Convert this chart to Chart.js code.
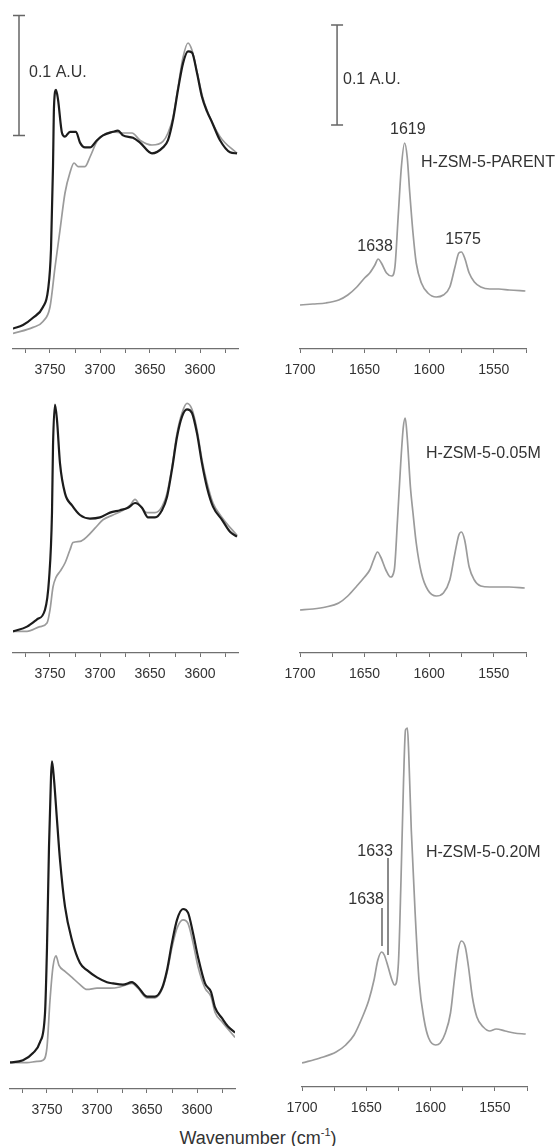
<!DOCTYPE html>
<html>
<head>
<meta charset="utf-8">
<script src="https://cdn.jsdelivr.net/npm/chart.js@4.4.0/dist/chart.umd.min.js"></script>
<style>
  html, body { margin: 0; padding: 0; background: #fff; }
  #page { position: relative; width: 558px; height: 1146px; overflow: hidden; }
  #page canvas { position: absolute; }
  #xtitle {
    position: absolute; left: 0; top: 1127px; width: 516px;
    text-align: center; font: 18px "Liberation Sans", Arial, sans-serif;
    color: #333; line-height: 22px;
  }
  #xtitle sup { font-size: 11px; vertical-align: 8px; line-height: 0; }
</style>
</head>
<body>
<div id="page">
  <canvas id="oh-parent" width="255" height="379" style="left:0;top:0"></canvas>
  <canvas id="py-parent" width="288" height="379" style="left:270px;top:0"></canvas>
  <canvas id="oh-005" width="255" height="298" style="left:0;top:385px"></canvas>
  <canvas id="py-005" width="288" height="298" style="left:270px;top:385px"></canvas>
  <canvas id="oh-020" width="255" height="419" style="left:0;top:700px"></canvas>
  <canvas id="py-020" width="288" height="417" style="left:270px;top:700px"></canvas>
  <div id="xtitle">Wavenumber (cm<sup>-1</sup>)</div>
</div>
<script>
// tick labels (major) and tick marks (major + minor)
const ohTicks = [3750, 3700, 3650, 3600];
const ohTickMarks = [3775, 3750, 3725, 3700, 3675, 3650, 3625, 3600, 3575];
const pyTicks = [1700, 1650, 1600, 1550];
const pyTickMarks = [1700, 1675, 1650, 1625, 1600, 1575, 1550, 1525];

// --- OH region, H-ZSM-5-PARENT (absorbance, A.U.) ---
const ohParentBlackWn = [3787, 3777, 3767, 3757, 3752, 3749, 3747, 3746, 3744, 3742, 3738, 3735, 3730, 3724, 3720, 3715, 3710, 3703, 3697, 3687, 3682, 3677, 3667, 3660, 3648, 3637, 3632, 3627, 3622, 3617, 3612, 3608, 3603, 3598, 3593, 3588, 3580, 3570, 3563];
const ohParentBlack = [0.017, 0.020, 0.026, 0.035, 0.049, 0.083, 0.152, 0.202, 0.216, 0.208, 0.180, 0.177, 0.181, 0.181, 0.172, 0.168, 0.168, 0.174, 0.178, 0.181, 0.182, 0.178, 0.176, 0.172, 0.163, 0.168, 0.174, 0.191, 0.216, 0.238, 0.248, 0.247, 0.230, 0.210, 0.198, 0.189, 0.174, 0.164, 0.163];
const ohParentGrayWn = [3787, 3767, 3757, 3750, 3745, 3740, 3735, 3730, 3726, 3722, 3715, 3710, 3703, 3697, 3687, 3677, 3668, 3660, 3648, 3637, 3632, 3627, 3622, 3617, 3612, 3608, 3603, 3598, 3593, 3580, 3563];
const ohParentGray = [0.013, 0.018, 0.023, 0.035, 0.068, 0.099, 0.130, 0.147, 0.155, 0.152, 0.152, 0.160, 0.173, 0.178, 0.181, 0.180, 0.180, 0.174, 0.170, 0.173, 0.180, 0.193, 0.218, 0.243, 0.255, 0.249, 0.231, 0.212, 0.199, 0.177, 0.163];

// --- OH region, H-ZSM-5-0.05M ---
const oh005BlackWn = [3787, 3773, 3763, 3755, 3751, 3748, 3747, 3745, 3743, 3740, 3735, 3728, 3720, 3710, 3700, 3690, 3680, 3672, 3665, 3658, 3652, 3645, 3638, 3633, 3628, 3623, 3618, 3613, 3608, 3603, 3598, 3593, 3587, 3578, 3570, 3563];
const oh005Black = [0.018, 0.022, 0.028, 0.036, 0.061, 0.117, 0.172, 0.207, 0.194, 0.158, 0.133, 0.123, 0.115, 0.112, 0.113, 0.117, 0.119, 0.121, 0.125, 0.121, 0.113, 0.113, 0.119, 0.130, 0.153, 0.180, 0.197, 0.203, 0.200, 0.183, 0.158, 0.138, 0.122, 0.111, 0.101, 0.097];
const oh005GrayWn = [3787, 3773, 3760, 3753, 3750, 3747, 3744, 3740, 3735, 3730, 3727, 3720, 3713, 3705, 3697, 3687, 3677, 3670, 3665, 3660, 3653, 3645, 3638, 3633, 3628, 3623, 3618, 3613, 3608, 3603, 3598, 3593, 3587, 3578, 3563];
const oh005Gray = [0.018, 0.018, 0.022, 0.025, 0.036, 0.055, 0.063, 0.068, 0.075, 0.086, 0.092, 0.093, 0.097, 0.104, 0.111, 0.115, 0.119, 0.123, 0.128, 0.123, 0.117, 0.117, 0.122, 0.133, 0.155, 0.183, 0.200, 0.208, 0.203, 0.186, 0.161, 0.142, 0.125, 0.113, 0.098];

// --- OH region, H-ZSM-5-0.20M ---
const oh020BlackWn = [3788, 3774, 3764, 3757, 3752, 3750, 3748, 3746, 3745, 3743, 3740, 3737, 3732, 3725, 3717, 3710, 3700, 3690, 3684, 3674, 3665, 3659, 3650, 3642, 3635, 3630, 3625, 3620, 3614, 3609, 3604, 3599, 3592, 3586, 3582, 3575, 3569, 3562];
const oh020Black = [0.022, 0.024, 0.030, 0.039, 0.063, 0.118, 0.202, 0.260, 0.273, 0.258, 0.224, 0.191, 0.152, 0.124, 0.105, 0.099, 0.093, 0.089, 0.088, 0.087, 0.089, 0.085, 0.077, 0.077, 0.084, 0.099, 0.122, 0.141, 0.150, 0.147, 0.130, 0.110, 0.088, 0.081, 0.068, 0.059, 0.052, 0.047];
const oh020GrayWn = [3788, 3770, 3760, 3754, 3750, 3747, 3744, 3741, 3738, 3732, 3725, 3717, 3710, 3700, 3687, 3677, 3665, 3659, 3650, 3642, 3635, 3630, 3625, 3620, 3614, 3609, 3604, 3599, 3592, 3586, 3582, 3575, 3562];
const oh020Gray = [0.022, 0.022, 0.023, 0.024, 0.035, 0.074, 0.102, 0.111, 0.103, 0.098, 0.093, 0.087, 0.083, 0.084, 0.084, 0.085, 0.088, 0.084, 0.076, 0.076, 0.083, 0.097, 0.118, 0.134, 0.141, 0.138, 0.122, 0.102, 0.084, 0.077, 0.064, 0.056, 0.043];

// --- pyridine region ---
const pyParentWn = [1700, 1690, 1680, 1670, 1663, 1656, 1650, 1646, 1642, 1639.5, 1637, 1633, 1629, 1626.5, 1624, 1621.5, 1619, 1617, 1615, 1612.5, 1610, 1606, 1601, 1594.5, 1589, 1584, 1580, 1577, 1575, 1572.5, 1569, 1565, 1560, 1553, 1546, 1538, 1525.5];
const pyParent = [0.044, 0.045, 0.046, 0.049, 0.054, 0.062, 0.071, 0.076, 0.084, 0.090, 0.086, 0.076, 0.073, 0.082, 0.132, 0.182, 0.206, 0.192, 0.156, 0.116, 0.086, 0.066, 0.056, 0.052, 0.054, 0.062, 0.082, 0.096, 0.097, 0.091, 0.076, 0.067, 0.062, 0.060, 0.060, 0.059, 0.058];
const py005Wn = [1700, 1690, 1680, 1670, 1663, 1656, 1650, 1646, 1643, 1640, 1637.5, 1633.5, 1630, 1627, 1624.5, 1622, 1620, 1618.5, 1617, 1614.5, 1612.5, 1610, 1606, 1601, 1594.5, 1589, 1584, 1580, 1577, 1575, 1572.5, 1569, 1565, 1560, 1553, 1544, 1538, 1526];
const py005 = [0.043, 0.044, 0.046, 0.050, 0.057, 0.067, 0.076, 0.083, 0.093, 0.101, 0.096, 0.083, 0.076, 0.083, 0.133, 0.190, 0.226, 0.235, 0.216, 0.166, 0.140, 0.110, 0.080, 0.063, 0.057, 0.060, 0.073, 0.100, 0.118, 0.121, 0.113, 0.086, 0.073, 0.067, 0.066, 0.066, 0.066, 0.065];
const py020Wn = [1700, 1686, 1673.5, 1666, 1659.5, 1653, 1648, 1644, 1641, 1638, 1636, 1633, 1630, 1628, 1625, 1623, 1621, 1619.5, 1618, 1617, 1615, 1612, 1609, 1605, 1601.5, 1596, 1592.5, 1588.5, 1584.5, 1581.5, 1578.5, 1576, 1573, 1570.5, 1567.5, 1564, 1559, 1554, 1549, 1542, 1535, 1526];
const py020 = [0.024, 0.029, 0.035, 0.042, 0.052, 0.070, 0.087, 0.107, 0.127, 0.135, 0.132, 0.120, 0.107, 0.102, 0.124, 0.207, 0.307, 0.357, 0.359, 0.334, 0.257, 0.174, 0.107, 0.067, 0.049, 0.042, 0.044, 0.054, 0.074, 0.107, 0.137, 0.146, 0.140, 0.120, 0.090, 0.070, 0.060, 0.056, 0.058, 0.056, 0.054, 0.053];

const BLACK = "#1c1c1c";
const GRAY = "#9b9b9b";
const TEXT = "#333333";
const FONT = '"Liberation Sans", Arial, sans-serif';
const AXIS_H = 30;

function pts(xs, ys) {
  return xs.map((x, i) => ({ x: x, y: ys[i] }));
}

// scale bars, labels and marker lines, placed through the chart scales
function marksPlugin(cfg) {
  return {
    id: "marks",
    afterDatasetsDraw(chart) {
      const ctx = chart.ctx;
      const sx = chart.scales.x;
      const sy = chart.scales.y;
      ctx.save();
      ctx.lineCap = "butt";

      (cfg.bars || []).forEach((b) => {
        const x = sx.getPixelForValue(b.x);
        const y0 = sy.getPixelForValue(b.y);
        const y1 = sy.getPixelForValue(b.y + 0.1);
        ctx.strokeStyle = "#666";
        ctx.lineWidth = 1.5;
        ctx.beginPath();
        ctx.moveTo(x, y0); ctx.lineTo(x, y1);
        ctx.moveTo(x - 6, y0); ctx.lineTo(x + 6, y0);
        ctx.moveTo(x - 6, y1); ctx.lineTo(x + 6, y1);
        ctx.stroke();
      });

      (cfg.lines || []).forEach((l) => {
        const x = sx.getPixelForValue(l.x);
        ctx.strokeStyle = "#8a8a8a";
        ctx.lineWidth = 2;
        ctx.beginPath();
        ctx.moveTo(x, sy.getPixelForValue(l.y0));
        ctx.lineTo(x, sy.getPixelForValue(l.y1));
        ctx.stroke();
      });

      ctx.fillStyle = TEXT;
      ctx.font = "16px " + FONT;
      ctx.textBaseline = "middle";
      (cfg.texts || []).forEach((t) => {
        ctx.textAlign = t.align || "center";
        ctx.fillText(t.text, sx.getPixelForValue(t.x), sy.getPixelForValue(t.y));
      });
      ctx.restore();
    }
  };
}

function makePanel(id, opt) {
  const canvas = document.getElementById(id);
  const ymax = (canvas.height - AXIS_H - opt.pad.top) / opt.k;
  const labelList = opt.ticks;
  const markList = opt.tickMarks;

  const datasets = opt.series.map((s) => ({
    data: pts(s.x, s.y),
    borderColor: s.color,
    borderWidth: s.color === BLACK ? 2.2 : 1.7,
    pointRadius: 0,
    fill: false,
    cubicInterpolationMode: "monotone"
  }));

  return new Chart(canvas, {
    type: "line",
    data: { datasets: datasets },
    options: {
      responsive: false,
      animation: false,
      layout: { padding: { left: opt.pad.left, right: opt.pad.right, top: opt.pad.top, bottom: 0 } },
      plugins: { legend: { display: false }, tooltip: { enabled: false } },
      scales: {
        x: {
          type: "linear",
          reverse: true,
          min: opt.xmin,
          max: opt.xmax,
          afterBuildTicks: (s) => { s.ticks = markList.map((v) => ({ value: v })); },
          afterFit: (s) => { s.height = AXIS_H; },
          border: { display: true, color: "#707070", width: 1.3 },
          grid: { drawOnChartArea: false, drawTicks: true, tickLength: 4, color: "#707070" },
          ticks: {
            autoSkip: false,
            maxRotation: 0,
            minRotation: 0,
            padding: 9,
            color: TEXT,
            font: { family: FONT, size: 14 },
            callback: (v) => (labelList.includes(v) ? String(v) : "")
          }
        },
        y: { display: false, min: 0, max: ymax }
      }
    },
    plugins: [marksPlugin(opt.marks || {})]
  });
}

makePanel("oh-parent", {
  k: 1200, xmin: 3562, xmax: 3787, ticks: ohTicks, tickMarks: ohTickMarks,
  pad: { left: 13, right: 17, top: 5 },
  series: [
    { x: ohParentBlackWn, y: ohParentBlack, color: BLACK },
    { x: ohParentGrayWn, y: ohParentGray, color: GRAY }
  ],
  marks: {
    bars: [{ x: 3781, y: 0.178 }],
    texts: [{ text: "0.1 A.U.", x: 3771, y: 0.230, align: "left" }]
  }
});

makePanel("py-parent", {
  k: 1000, xmin: 1525, xmax: 1700, ticks: pyTicks, tickMarks: pyTickMarks,
  pad: { left: 30, right: 32, top: 5 },
  series: [{ x: pyParentWn, y: pyParent, color: GRAY }],
  marks: {
    bars: [{ x: 1671.3, y: 0.224 }],
    texts: [
      { text: "0.1 A.U.", x: 1666.7, y: 0.269, align: "left" },
      { text: "1619", x: 1616.5, y: 0.219 },
      { text: "1638", x: 1641.9, y: 0.102 },
      { text: "1575", x: 1573.7, y: 0.109 },
      { text: "H-ZSM-5-PARENT", x: 1606.3, y: 0.186, align: "left" }
    ]
  }
});

makePanel("oh-005", {
  k: 1200, xmin: 3562, xmax: 3787, ticks: ohTicks, tickMarks: ohTickMarks,
  pad: { left: 13, right: 17, top: 0 },
  series: [
    { x: oh005BlackWn, y: oh005Black, color: BLACK },
    { x: oh005GrayWn, y: oh005Gray, color: GRAY }
  ]
});

makePanel("py-005", {
  k: 1000, xmin: 1525, xmax: 1700, ticks: pyTicks, tickMarks: pyTickMarks,
  pad: { left: 30, right: 32, top: 0 },
  series: [{ x: py005Wn, y: py005, color: GRAY }],
  marks: {
    texts: [{ text: "H-ZSM-5-0.05M", x: 1602.4, y: 0.199, align: "left" }]
  }
});

makePanel("oh-020", {
  k: 1200, xmin: 3562, xmax: 3787, ticks: ohTicks, tickMarks: ohTickMarks,
  pad: { left: 10, right: 20, top: 0 },
  series: [
    { x: oh020BlackWn, y: oh020Black, color: BLACK },
    { x: oh020GrayWn, y: oh020Gray, color: GRAY }
  ]
});

makePanel("py-020", {
  k: 1000, xmin: 1525, xmax: 1700, ticks: pyTicks, tickMarks: pyTickMarks,
  pad: { left: 32, right: 31, top: 0 },
  series: [{ x: py020Wn, y: py020, color: GRAY }],
  marks: {
    lines: [
      { x: 1633.1, y0: 0.132, y1: 0.229 },
      { x: 1637.8, y0: 0.141, y1: 0.179 }
    ],
    texts: [
      { text: "H-ZSM-5-0.20M", x: 1603.6, y: 0.234, align: "left" },
      { text: "1633", x: 1643.2, y: 0.235 },
      { text: "1638", x: 1650.2, y: 0.187 }
    ]
  }
});
</script>
</body>
</html>
